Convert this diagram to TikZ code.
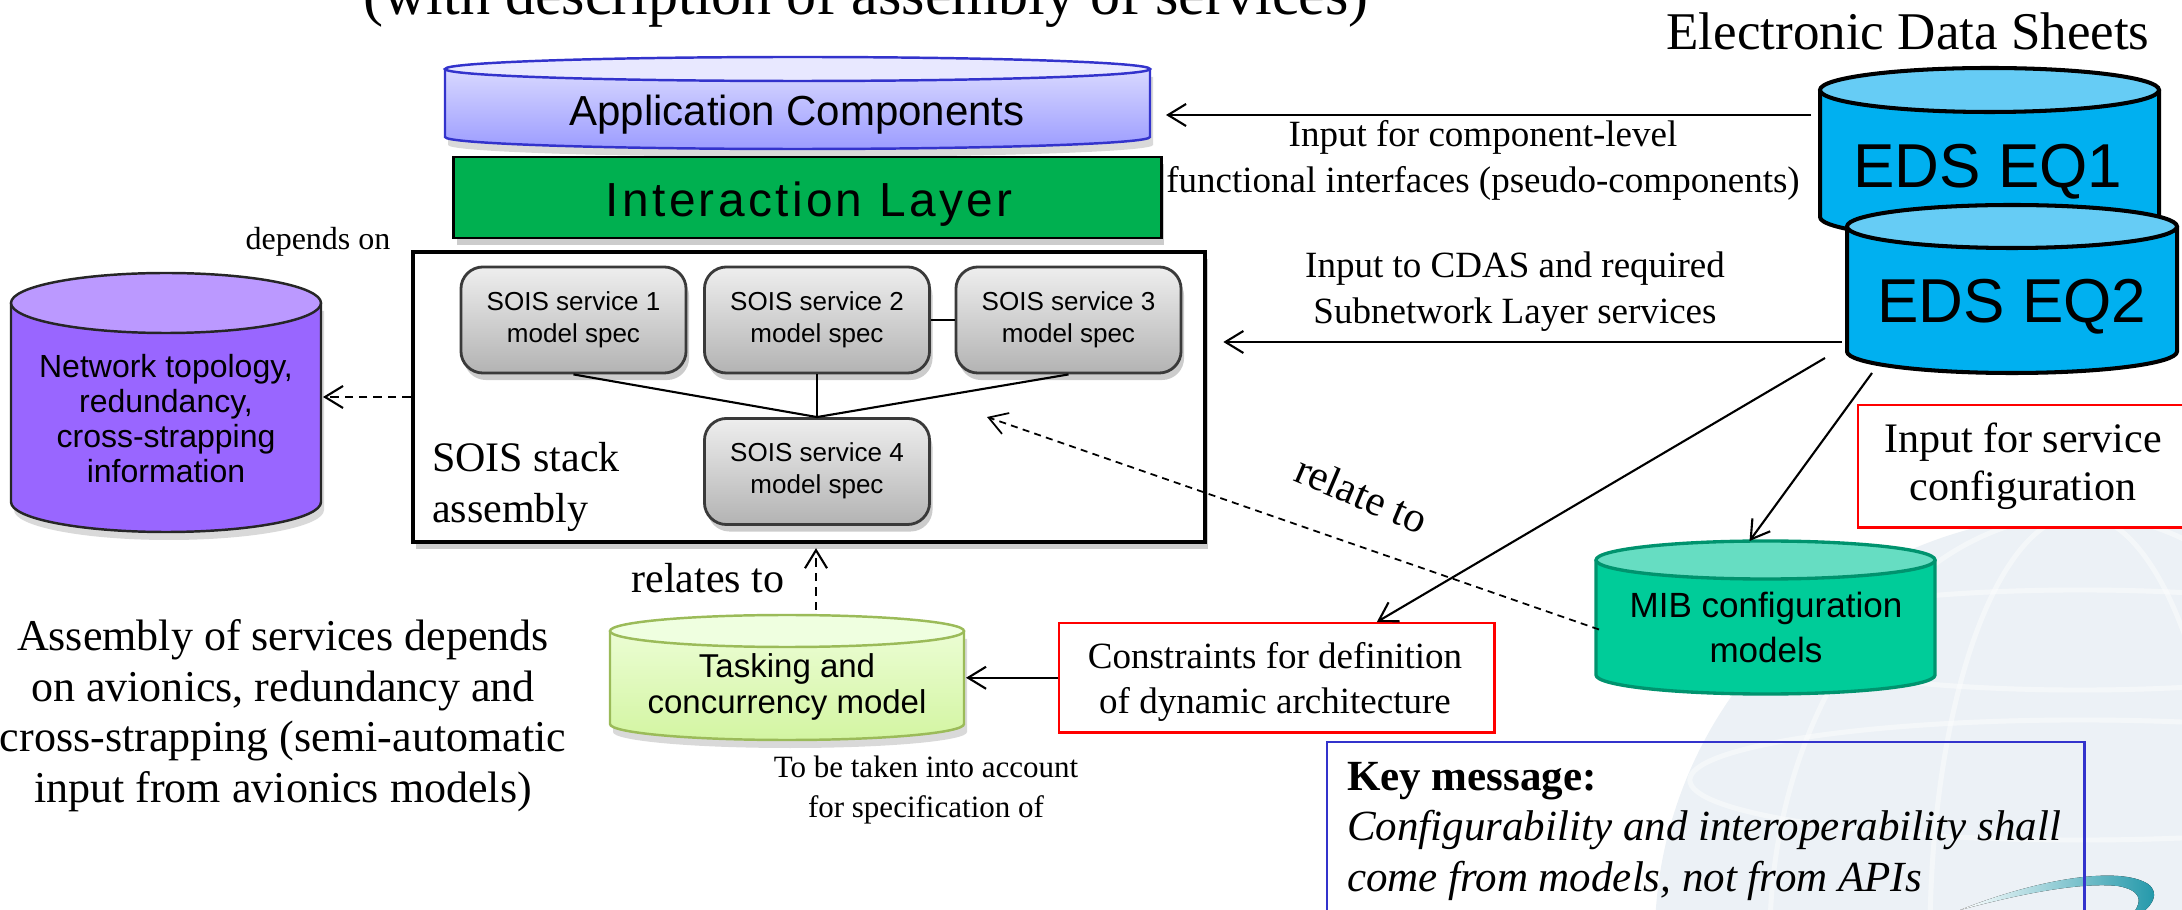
\documentclass[tikz,border=0pt]{standalone}
\usepackage{fontspec}
\setmainfont{Liberation Serif}
\setsansfont{Liberation Sans}
\newfontfamily\ilfont[LetterSpace=7]{Liberation Sans}
\usetikzlibrary{arrows.meta,shadows,calc}

\definecolor{appTop}{HTML}{E8E8FF}
\definecolor{appBodyTop}{HTML}{D8D8FF}
\definecolor{appBodyBot}{HTML}{9C9CFF}
\definecolor{appLine}{HTML}{3333CC}
\definecolor{ilGreen}{HTML}{00B050}
\definecolor{svcTop}{HTML}{EEEEEE}
\definecolor{svcBot}{HTML}{B3B3B3}
\definecolor{svcLine}{HTML}{3A3A3A}
\definecolor{netBody}{HTML}{9966FF}
\definecolor{netTop}{HTML}{BB99FF}
\definecolor{edsBody}{HTML}{00B0F0}
\definecolor{edsTop}{HTML}{66CCF5}
\definecolor{mibBody}{HTML}{00CC99}
\definecolor{mibTop}{HTML}{66DDC2}
\definecolor{mibLine}{HTML}{00936E}
\definecolor{taskTop}{HTML}{EFFFE0}
\definecolor{taskBodyTop}{HTML}{EBFDD3}
\definecolor{taskBodyBot}{HTML}{D3F5A2}
\definecolor{taskLine}{HTML}{9BBB59}
\definecolor{boxRed}{HTML}{FF0000}
\definecolor{keyBlue}{HTML}{3333CC}
\definecolor{globeFill}{HTML}{E9EFF4}
\definecolor{swooshTeal}{HTML}{1E96A8}

\newcommand\fs[2]{\fontsize{#1pt}{#2pt}\selectfont}

% cylinder: name, x1, top, x2, bottom, ry, body style, top style, outline style
\newcommand\cylinder[9]{%
  \pgfmathsetmacro\cyX{(#2+#4)/2}%
  \pgfmathsetmacro\cyKx{0.5523*(#4-#2)/2}%
  \pgfmathsetmacro\cyKy{0.5523*#6}%
  \pgfmathsetmacro\cyT{#3+#6}%
  \pgfmathsetmacro\cyB{#5-#6}%
  \pgfmathsetmacro\cyL{\cyX-\cyKx}%
  \pgfmathsetmacro\cyR{\cyX+\cyKx}%
  \pgfmathsetmacro\cyF{\cyT+#6}%
  \fill[cyl shadow] (#2,\cyT) -- (#2,\cyB) .. controls (#2,\cyB+\cyKy) and (\cyL,#5) .. (\cyX,#5)
     .. controls (\cyR,#5) and (#4,\cyB+\cyKy) .. (#4,\cyB) -- (#4,\cyT) -- cycle;
  \path[#7] (#2,\cyT) -- (#2,\cyB) .. controls (#2,\cyB+\cyKy) and (\cyL,#5) .. (\cyX,#5)
     .. controls (\cyR,#5) and (#4,\cyB+\cyKy) .. (#4,\cyB) -- (#4,\cyT)
     .. controls (#4,\cyT+\cyKy) and (\cyR,\cyF) .. (\cyX,\cyF)
     .. controls (\cyL,\cyF) and (#2,\cyT+\cyKy) .. (#2,\cyT) -- cycle;
  \draw[#9] (#2,\cyT) -- (#2,\cyB) .. controls (#2,\cyB+\cyKy) and (\cyL,#5) .. (\cyX,#5)
     .. controls (\cyR,#5) and (#4,\cyB+\cyKy) .. (#4,\cyB) -- (#4,\cyT);
  \path[#8,#9] (#2,\cyT) .. controls (#2,\cyT-\cyKy) and (\cyL,#3) .. (\cyX,#3)
     .. controls (\cyR,#3) and (#4,\cyT-\cyKy) .. (#4,\cyT)
     .. controls (#4,\cyT+\cyKy) and (\cyR,\cyF) .. (\cyX,\cyF)
     .. controls (\cyL,\cyF) and (#2,\cyT+\cyKy) .. (#2,\cyT) -- cycle;
  \node[inner sep=0,outer sep=0,minimum width={(#4-#2)*0.01cm},
        minimum height={(#5-#3)*0.01cm}] (#1) at (\cyX,{(#3+#5)/2}) {};%
}

\tikzset{
  cyl shadow/.style={fill=black, opacity=0.15, shift={(3,8)}},
  txt/.style={inner sep=0, outer sep=0, align=center},
  arr/.style={-{Straight Barb[length=0.18cm,width=0.22cm]}, line width=0.6pt},
  darr/.style={arr, dash pattern=on 2.4pt off 1.7pt},
  darrthin/.style={arr, line width=0.5pt, dash pattern=on 2pt off 1.5pt},
  conn/.style={line width=0.6pt},
  softshadow/.style={drop shadow={shadow xshift=0.03cm, shadow yshift=-0.07cm, opacity=0.2, fill=black}},
  svc/.style={draw=svcLine, line width=0.8pt, rounded corners=0.22cm,
    top color=svcTop, bottom color=svcBot, minimum width=2.25cm, minimum height=1.06cm,
    inner sep=0, align=center, font=\sffamily\fs{7.4}{9.1}, softshadow},
  redbox/.style={draw=boxRed, line width=0.7pt, fill=white, inner sep=0, anchor=north west},
  globeline/.style={white, line width=1.4pt, opacity=0.45},
}

\begin{document}
\begin{tikzpicture}[x=0.01cm,y=-0.01cm]
\useasboundingbox (0,0) rectangle (2182,910);
\clip (0,0) rectangle (2182,910);

% faint globe in the lower right corner
\begin{scope}
  \clip (2080,940) circle[radius=4.25cm];
  \fill[globeFill, opacity=0.85] (2080,940) circle[radius=4.25cm];
  \draw[globeline] (2080,940) ellipse[x radius=1.5cm, y radius=4.25cm];
  \draw[globeline] (2080,940) ellipse[x radius=3.1cm, y radius=4.25cm];
  \draw[globeline] (2080,640) ellipse[x radius=3.2cm, y radius=0.5cm];
  \draw[globeline] (2080,780) ellipse[x radius=3.9cm, y radius=0.6cm];
\end{scope}
% swoosh
\fill[left color=white, right color=swooshTeal]
  (1960,910) .. controls (2040,878) and (2120,866) .. (2148,884)
  .. controls (2160,893) and (2152,905) .. (2143,912) -- (2134,912)
  .. controls (2143,900) and (2140,890) .. (2118,886)
  .. controls (2080,882) and (2020,894) .. (1960,910) -- cycle;

% titles
\node[anchor=base, inner sep=0, font=\fs{17.07}{20}] (title) at (866,15)
  {(with description of assembly of services)};
\node[anchor=base, inner sep=0, font=\fs{15.08}{18}] (edshead) at (1908,50)
  {Electronic Data Sheets};

% application components
\cylinder{appc}{445}{57}{1150}{149}{12}{top color=appBodyTop, bottom color=appBodyBot}{fill=appTop}{draw=appLine, line width=0.7pt}
\node[anchor=base, inner sep=0, font=\sffamily\fs{11.95}{14}] (appc-t) at (797,126) {Application Components};

% interaction layer
\node[draw=black, line width=0.8pt, fill=ilGreen, minimum width=7.07cm, minimum height=0.81cm,
      inner sep=0, softshadow] (il) at (807.5,197.5) {};
\node[anchor=base, inner sep=0, font=\ilfont\fs{13.6}{16}] (il-t) at (809,217) {Interaction Layer};

% SOIS stack assembly
\node[draw=black, line width=1.2pt, fill=white, minimum width=7.92cm, minimum height=2.9cm,
      inner sep=0, softshadow] (sois) at (809,397) {};
\node[svc] (s1) at (573.5,320) {\strut SOIS service 1\\model spec\strut};
\node[svc] (s2) at (817,320) {\strut SOIS service 2\\model spec\strut};
\node[svc] (s3) at (1068.5,320) {\strut SOIS service 3\\model spec\strut};
\node[svc] (s4) at (817,471.5) {\strut SOIS service 4\\model spec\strut};
\draw[conn] (s1.south) -- (s4.north);
\draw[conn] (s2.south) -- (s4.north);
\draw[conn] (s3.south) -- (s4.north);
\draw[conn] (s2.east) -- (s3.west);
\node[txt, align=left, anchor=west, font=\fs{11.95}{14.5}] (sois-t) at (432,487.3)
  {\strut SOIS stack\\assembly\strut};

% network topology
\cylinder{net}{11}{273}{321}{532}{30}{fill=netBody}{fill=netTop}{draw=black!85, line width=0.7pt}
\node[txt, font=\sffamily\fs{9.1}{10.04}] (net-t) at (166,422.9)
  {\strut Network topology,\\redundancy,\\cross-strapping\\information\strut};
\node[anchor=base, inner sep=0, font=\fs{9.1}{11}] (dep-t) at (318,250) {depends on};

% tasking and concurrency
\cylinder{task}{610}{615}{964}{740}{16}{top color=taskBodyTop, bottom color=taskBodyBot}{fill=taskTop}{draw=taskLine, line width=0.7pt}
\node[txt, font=\sffamily\fs{9.39}{9.96}] (task-t) at (787,688.5)
  {\strut Tasking and\\concurrency model\strut};
\node[anchor=base, inner sep=0, font=\fs{11.95}{14}] (rel-t) at (708,593) {relates to};
\node[txt, font=\fs{8.82}{11.1}] (tobe-t) at (926,789.7)
  {\strut To be taken into account\\for specification of\strut};

% assembly note
\node[txt, font=\fs{12.52}{14.5}] (asm-t) at (283,716.3)
  {\strut Assembly of services depends\\on avionics, redundancy and\\cross-strapping (semi-automatic\\input from avionics models)\strut};

% electronic data sheets
\begin{scope}[cyl shadow/.style={opacity=0}]
\cylinder{eqa}{1820}{68}{2159}{239}{22}{fill=edsBody}{fill=edsTop}{draw=black, line width=1.15pt}
\node[anchor=base, inner sep=0, font=\sffamily\fs{17.64}{20}] (eqa-t) at (1988,188) {EDS EQ1};
\cylinder{eqb}{1847}{205}{2177}{373}{21.5}{fill=edsBody}{fill=edsTop}{draw=black, line width=1.15pt}
\node[anchor=base, inner sep=0, font=\sffamily\fs{17.64}{20}] (eqb-t) at (2012,323) {EDS EQ2};
\cylinder{mib}{1596}{541}{1935}{694}{19}{fill=mibBody}{fill=mibTop}{draw=mibLine, line width=0.95pt}
\end{scope}
\node[txt, font=\sffamily\fs{9.96}{12.52}] (mib-t) at (1766,631.2)
  {\strut MIB configuration\\models\strut};

% labels of the EDS inputs
\node[txt, font=\fs{10.53}{12.8}] (lab1) at (1483,160.5)
  {\strut Input for component-level\\functional interfaces (pseudo-components)\strut};
\node[txt, font=\fs{10.53}{12.8}] (lab2) at (1515,291.5)
  {\strut Input to CDAS and required\\Subnetwork Layer services\strut};

% red boxes
\node[redbox, minimum width=3.5cm, minimum height=1.22cm] (svccfg) at (1857,404) {};
\node[txt, font=\fs{11.95}{13.37}] (svccfg-t) at (2023,467.1)
  {\strut Input for service\\configuration\strut};
\node[redbox, minimum width=4.35cm, minimum height=1.09cm] (constr) at (1058,622) {};
\node[txt, font=\fs{10.53}{12.52}] (constr-t) at (1275,682.2)
  {\strut Constraints for definition\\of dynamic architecture\strut};

% key message
\node[draw=keyBlue, line width=0.7pt, minimum width=7.57cm, minimum height=2.2cm,
      inner sep=0, anchor=north west] (key) at (1326,741) {};
\node[txt, align=left, anchor=west, font=\fs{12.23}{14.5}] (key-t) at (1347,830.8)
  {\strut\textbf{Key message:}\\\textit{Configurability and interoperability shall}\\\textit{come from models, not from APIs}\strut};

% connectors
\draw[arr, shorten <=0.09cm, shorten >=0.16cm] (eqa.west |- 0,115) -- (appc.east |- 0,115);
\draw[arr, shorten <=0.05cm, shorten >=0.16cm] (eqb.west |- 0,342) -- (sois.east |- 0,342);
\draw[arr] ($(eqb.south west)+(-22,-15)$) -- ($(constr.north)+(100,0)$);
\draw[arr] ($(eqb.south west)+(25,0)$) -- ($(mib.north)+(-16,0)$);
\coordinate (relTip) at (987,417);
\draw[darrthin] ($(mib.west)+(3,12)$) -- (relTip);
\node[anchor=center, inner sep=0, rotate=-23, font=\fs{12.2}{14}] (relate-t) at (1362,494) {relate to};
\draw[darr, shorten >=0.02cm] (sois.west) -- (net.east |- sois.west);
\draw[darr] ($(task.north)+(29,-5)$) -- ($(sois.south)+(7,4)$);
\draw[arr, shorten >=0.02cm] (constr.west) -- (task.east |- constr.west);
\end{tikzpicture}
\end{document}
